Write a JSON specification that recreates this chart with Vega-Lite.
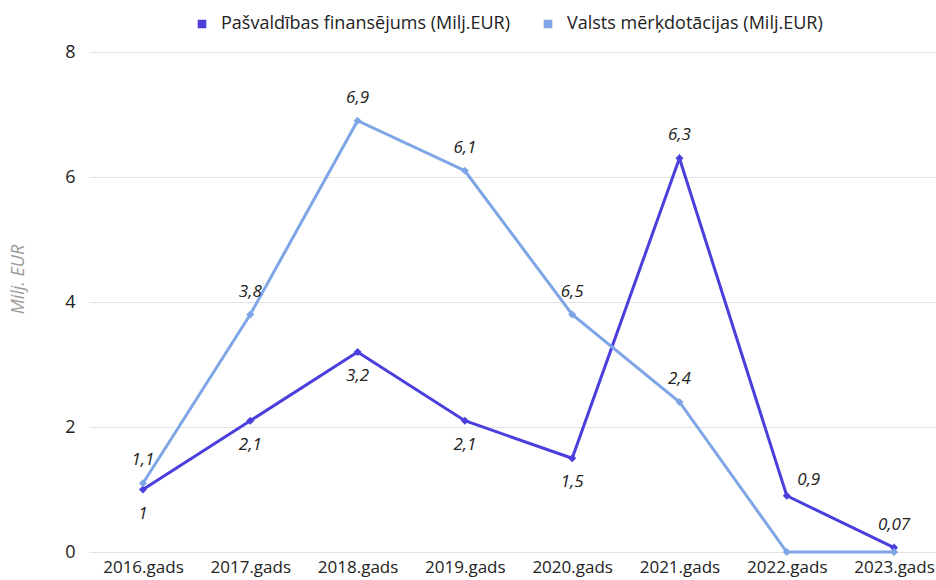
{
  "$schema": "https://vega.github.io/schema/vega-lite/v6.json",
  "width": 847,
  "height": 500,
  "autosize": {"type": "none"},
  "padding": {"left": 89, "top": 52, "right": 0, "bottom": 28},
  "background": "white",
  "config": {
    "font": "Open Sans",
    "view": {"stroke": null}
  },
  "data": {
    "values": [
      {"year": 2016, "series": "Pašvaldības finansējums (Milj.EUR)", "value": 1, "label": "1"},
      {"year": 2017, "series": "Pašvaldības finansējums (Milj.EUR)", "value": 2.1, "label": "2,1"},
      {"year": 2018, "series": "Pašvaldības finansējums (Milj.EUR)", "value": 3.2, "label": "3,2"},
      {"year": 2019, "series": "Pašvaldības finansējums (Milj.EUR)", "value": 2.1, "label": "2,1"},
      {"year": 2020, "series": "Pašvaldības finansējums (Milj.EUR)", "value": 1.5, "label": "1,5"},
      {"year": 2021, "series": "Pašvaldības finansējums (Milj.EUR)", "value": 6.3, "label": "6,3"},
      {"year": 2022, "series": "Pašvaldības finansējums (Milj.EUR)", "value": 0.9, "label": "0,9"},
      {"year": 2023, "series": "Pašvaldības finansējums (Milj.EUR)", "value": 0.07, "label": "0,07"},
      {"year": 2016, "series": "Valsts mērķdotācijas (Milj.EUR)", "value": 1.1, "label": "1,1"},
      {"year": 2017, "series": "Valsts mērķdotācijas (Milj.EUR)", "value": 3.8, "label": "3,8"},
      {"year": 2018, "series": "Valsts mērķdotācijas (Milj.EUR)", "value": 6.9, "label": "6,9"},
      {"year": 2019, "series": "Valsts mērķdotācijas (Milj.EUR)", "value": 6.1, "label": "6,1"},
      {"year": 2020, "series": "Valsts mērķdotācijas (Milj.EUR)", "value": 3.8, "label": "6,5"},
      {"year": 2021, "series": "Valsts mērķdotācijas (Milj.EUR)", "value": 2.4, "label": "2,4"},
      {"year": 2022, "series": "Valsts mērķdotācijas (Milj.EUR)", "value": 0, "label": ""},
      {"year": 2023, "series": "Valsts mērķdotācijas (Milj.EUR)", "value": 0, "label": ""}
    ]
  },
  "encoding": {
    "x": {
      "field": "year",
      "type": "quantitative",
      "scale": {"domain": [2015.497, 2023.391], "nice": false, "zero": false},
      "axis": {
        "title": null,
        "values": [2016, 2017, 2018, 2019, 2020, 2021, 2022, 2023],
        "labelExpr": "datum.value + '.gads'",
        "grid": false,
        "domain": false,
        "ticks": false,
        "labelPadding": 7,
        "labelFontSize": 17,
        "labelColor": "#222222",
        "labelFlush": false,
        "labelOverlap": false
      }
    },
    "y": {
      "field": "value",
      "type": "quantitative",
      "scale": {"domain": [0, 8], "nice": false},
      "axis": {
        "title": "Milj. EUR",
        "titleFontStyle": "italic",
        "titleFontWeight": "normal",
        "titleColor": "#9a9a9a",
        "titleFontSize": 18,
        "titleX": -62,
        "titleY": 227,
        "values": [0, 2, 4, 6, 8],
        "domain": false,
        "ticks": false,
        "labelPadding": 14,
        "labelFontSize": 18,
        "labelColor": "#222222",
        "gridColor": "#e3e3e3",
        "gridWidth": 1.2
      }
    },
    "color": {
      "field": "series",
      "type": "nominal",
      "scale": {
        "domain": ["Pašvaldības finansējums (Milj.EUR)", "Valsts mērķdotācijas (Milj.EUR)"],
        "range": ["#4a3fdc", "#7ea6e6"]
      },
      "legend": {
        "title": null,
        "orient": "none",
        "direction": "horizontal",
        "legendX": 104,
        "legendY": -37,
        "symbolType": "square",
        "symbolSize": 50,
        "labelFontSize": 18,
        "labelLimit": 0,
        "labelColor": "#222222",
        "columnPadding": 28,
        "labelOffset": 10
      }
    }
  },
  "layer": [
    {
      "mark": {"type": "line", "strokeWidth": 3},
      "encoding": {}
    },
    {
      "mark": {"type": "point", "shape": "diamond", "filled": true, "size": 65, "opacity": 1},
      "encoding": {}
    },
    {
      "transform": [{"filter": "(datum.series == 'Valsts mērķdotācijas (Milj.EUR)' && datum.label != '') || datum.year == 2021 || datum.year == 2023"}],
      "mark": {"type": "text", "dy": -23, "fontSize": 17, "fontStyle": "italic"},
      "encoding": {"text": {"field": "label"}, "color": {"value": "#222222"}}
    },
    {
      "transform": [{"filter": "datum.series == 'Pašvaldības finansējums (Milj.EUR)' && datum.year <= 2020"}],
      "mark": {"type": "text", "dy": 24, "fontSize": 17, "fontStyle": "italic"},
      "encoding": {"text": {"field": "label"}, "color": {"value": "#222222"}}
    },
    {
      "transform": [{"filter": "datum.series == 'Pašvaldības finansējums (Milj.EUR)' && datum.year == 2022"}],
      "mark": {"type": "text", "dx": 22, "dy": -16, "fontSize": 17, "fontStyle": "italic"},
      "encoding": {"text": {"field": "label"}, "color": {"value": "#222222"}}
    }
  ]
}
